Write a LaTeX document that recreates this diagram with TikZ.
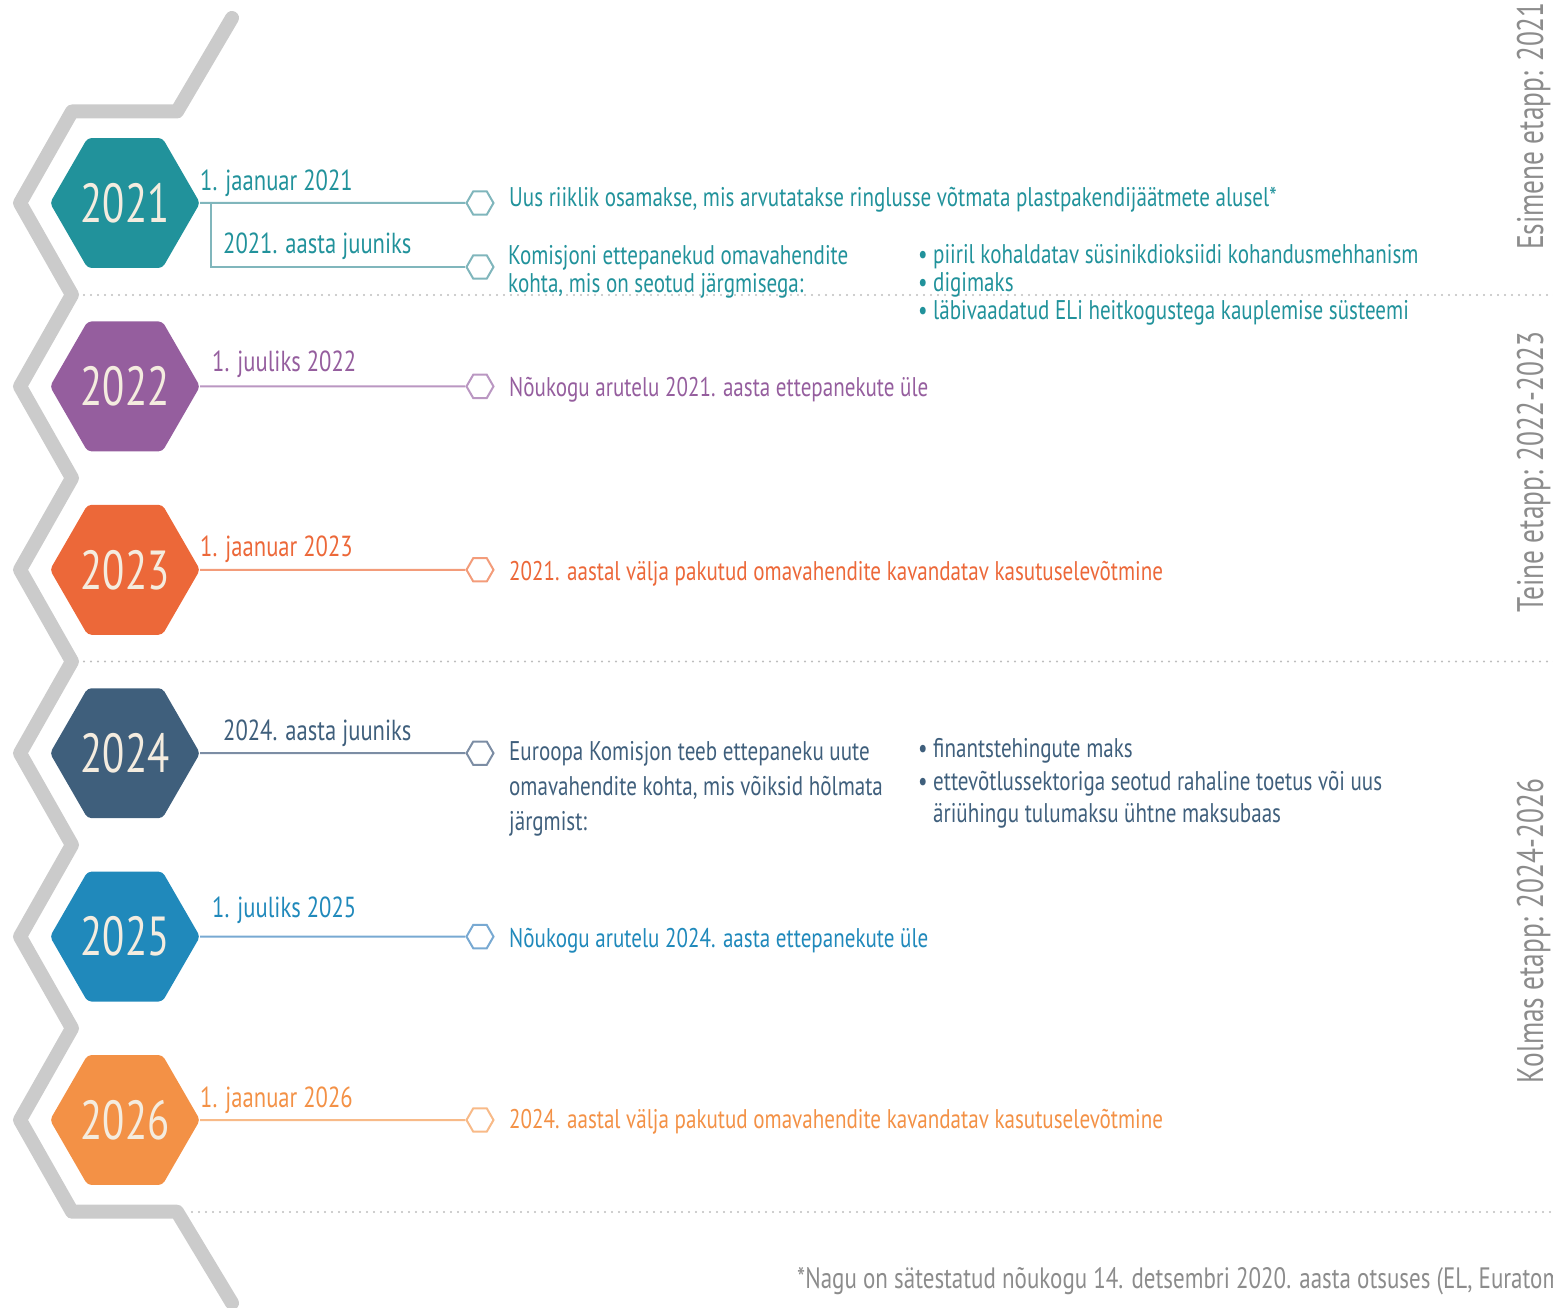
\documentclass[tikz,border=0pt]{standalone}
\usepackage{fontspec}
\setmainfont{PT Sans}[FakeStretch=0.78]
\newfontfamily\narrowfont{PT Sans}[FakeStretch=0.74]
\usetikzlibrary{shapes.geometric,calc}
\definecolor{cTeal}{HTML}{21929B}
\definecolor{lTeal}{HTML}{80B6BC}
\definecolor{cPurp}{HTML}{955E9E}
\definecolor{lPurp}{HTML}{BA97C2}
\definecolor{cRed}{HTML}{EC6839}
\definecolor{lRed}{HTML}{F39C7A}
\definecolor{cSlate}{HTML}{3F5F7C}
\definecolor{lSlate}{HTML}{7C8DA4}
\definecolor{cBlue}{HTML}{2089BB}
\definecolor{lBlue}{HTML}{78A9D2}
\definecolor{cOrng}{HTML}{F39146}
\definecolor{lOrng}{HTML}{F8BA88}
\definecolor{cream}{HTML}{F4ECDF}
\definecolor{zig}{HTML}{CBCBCB}
\definecolor{dots}{HTML}{BDBDBD}
\definecolor{grtxt}{HTML}{8C8C8C}
\begin{document}
\begin{tikzpicture}[x=1pt,y=-1pt,
  yearhex/.style={regular polygon, regular polygon sides=6, minimum size=150pt, inner sep=0pt,
    rounded corners=4pt, text=cream, font=\narrowfont\fontsize{55}{55}\selectfont},
  minihex/.style={regular polygon, regular polygon sides=6, minimum size=27pt, inner sep=0pt,
    draw, line width=2pt, fill=white},
  conn/.style={line width=2pt},
  datelbl/.style={anchor=base west, inner sep=0pt, font=\fontsize{29}{29}\selectfont},
  desc/.style={anchor=base west, inner sep=0pt, font=\fontsize{27}{27}\selectfont},
  bul/.style={anchor=base west, inner sep=0pt, font=\fontsize{27}{27}\selectfont},
  dotline/.style={dots, line width=2.4pt, line cap=round, dash pattern=on 0pt off 7pt},
  stage/.style={rotate=90, anchor=base, inner sep=0pt, text=grtxt, font=\narrowfont\fontsize{37}{37}\selectfont},
]
\useasboundingbox (0,0) rectangle (1553,1308);
\clip (0,0) rectangle (1553,1308);

% gray zigzag
\draw[zig, line width=14pt, line join=round, line cap=round]
  (232,18) -- (177,111.5) -- (72,111.5) -- (20,203) -- (72,294.7) -- (20,386.4) -- (72,478.1)
  -- (20,569.8) -- (72,661.5) -- (20,753.2) -- (72,844.9) -- (20,936.6) -- (72,1028.3)
  -- (20,1120) -- (72,1211.7) -- (177,1211.7) -- (232,1303);

% dotted separators
\draw[dotline] (84,295) -- (1556,295);
\draw[dotline] (84,661.5) -- (1556,661.5);
\draw[dotline] (192,1212) -- (1556,1212);

% year hexagons
\node[yearhex, fill=cTeal]  (y1) at (125,203)   {2021};
\node[yearhex, fill=cPurp]  (y2) at (125,386.4) {2022};
\node[yearhex, fill=cRed]   (y3) at (125,569.8) {2023};
\node[yearhex, fill=cSlate] (y4) at (125,753.2) {2024};
\node[yearhex, fill=cBlue]  (y5) at (125,936.6) {2025};
\node[yearhex, fill=cOrng]  (y6) at (125,1120)  {2026};

% small hexagons
\node[minihex, draw=lTeal]  (s1a) at (480,203) {};
\node[minihex, draw=lTeal]  (s1b) at (480,267) {};
\node[minihex, draw=lPurp]  (s2)  at (480,386.4) {};
\node[minihex, draw=lRed]   (s3)  at (480,569.8) {};
\node[minihex, draw=lSlate] (s4)  at (480,753.2) {};
\node[minihex, draw=lBlue]  (s5)  at (480,936.6) {};
\node[minihex, draw=lOrng]  (s6)  at (480,1120) {};

% connectors
\draw[conn, lTeal] (y1.east) -- (s1a.west);
\coordinate (b1) at ($(y1.east)+(11,0)$);
\draw[conn, lTeal] (b1) |- (s1b.west);
\draw[conn, lPurp]  (y2.east) -- (s2.west);
\draw[conn, lRed]   (y3.east) -- (s3.west);
\draw[conn, lSlate] (y4.east) -- (s4.west);
\draw[conn, lBlue]  (y5.east) -- (s5.west);
\draw[conn, lOrng]  (y6.east) -- (s6.west);

% date labels
\node[datelbl, text=cTeal]  (d1a) at (200,191) {1. jaanuar 2021};
\node[datelbl, text=cTeal]  (d1b) at (223,254) {2021. aasta juuniks};
\node[datelbl, text=cPurp]  (d2)  at (212,371) {1. juuliks 2022};
\node[datelbl, text=cRed]   (d3)  at (200,556) {1. jaanuar 2023};
\node[datelbl, text=cSlate] (d4)  at (223,740) {2024. aasta juuniks};
\node[datelbl, text=cBlue]  (d5)  at (212,917) {1. juuliks 2025};
\node[datelbl, text=cOrng]  (d6)  at (200,1107) {1. jaanuar 2026};

% descriptions 2021
\node[desc, text=cTeal] (t1a) at (509,207) {Uus riiklik osamakse, mis arvutatakse ringlusse võtmata plastpakendijäätmete alusel*};
\node[desc, text=cTeal] (t1b) at (508,265) {Komisjoni ettepanekud omavahendite};
\node[desc, text=cTeal] (t1c) at (508,292) {kohta, mis on seotud järgmisega:};
\node[bul, text=cTeal] (p1a) at (918,264) {•};
\node[bul, text=cTeal] (q1a) at (933,264) {piiril kohaldatav süsinikdioksiidi kohandusmehhanism};
\node[bul, text=cTeal] (p1b) at (918,291) {•};
\node[bul, text=cTeal] (q1b) at (933,291) {digimaks};
\node[bul, text=cTeal] (p1c) at (918,319) {•};
\node[bul, text=cTeal] (q1c) at (933,319) {läbivaadatud ELi heitkogustega kauplemise süsteemi};

% 2022 / 2023
\node[desc, text=cPurp] (t2) at (509,396) {Nõukogu arutelu 2021. aasta ettepanekute üle};
\node[desc, text=cRed]  (t3) at (509,580) {2021. aastal välja pakutud omavahendite kavandatav kasutuselevõtmine};

% 2024
\node[desc, text=cSlate] (t4a) at (509,760) {Euroopa Komisjon teeb ettepaneku uute};
\node[desc, text=cSlate] (t4b) at (509,795) {omavahendite kohta, mis võiksid hõlmata};
\node[desc, text=cSlate] (t4c) at (509,830) {järgmist:};
\node[bul, text=cSlate] (p4a) at (918,757) {•};
\node[bul, text=cSlate] (q4a) at (933,757) {finantstehingute maks};
\node[bul, text=cSlate] (p4b) at (918,790) {•};
\node[bul, text=cSlate] (q4b) at (933,790) {ettevõtlussektoriga seotud rahaline toetus või uus};
\node[bul, text=cSlate] (q4c) at (933,822) {äriühingu tulumaksu ühtne maksubaas};

% 2025 / 2026
\node[desc, text=cBlue] (t5) at (509,947) {Nõukogu arutelu 2024. aasta ettepanekute üle};
\node[desc, text=cOrng] (t6) at (509,1128) {2024. aastal välja pakutud omavahendite kavandatav kasutuselevõtmine};

% stage labels
\node[stage] (e1) at (1543,126) {Esimene etapp: 2021};
\node[stage] (e2) at (1543,472) {Teine etapp: 2022-2023};
\node[stage] (e3) at (1543,931) {Kolmas etapp: 2024-2026};

% footnote
\node[desc, text=grtxt, font=\fontsize{29.5}{29.5}\selectfont] (fn) at (797,1288) {*Nagu on sätestatud nõukogu 14. detsembri 2020. aasta otsuses (EL, Euratom};
\end{tikzpicture}
\end{document}
